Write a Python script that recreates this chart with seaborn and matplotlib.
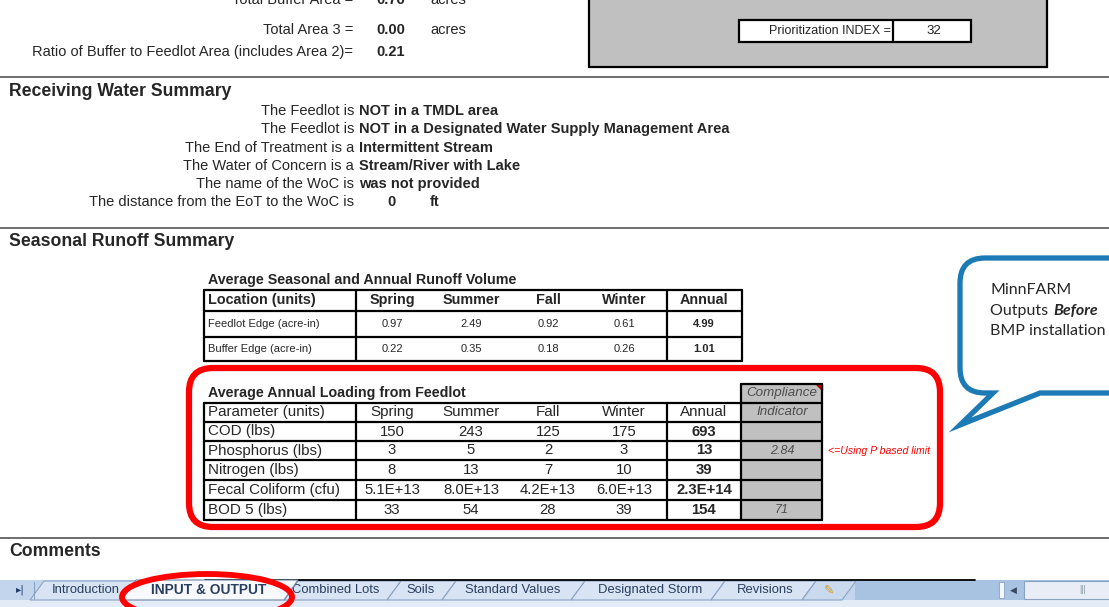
import numpy as np
import matplotlib
matplotlib.use("Agg")
import matplotlib.pyplot as plt
import seaborn as sns
from matplotlib.patches import Rectangle, FancyBboxPatch, Ellipse, PathPatch, Polygon
from matplotlib.path import Path

# ---- data ----
area_labels = ["Total Buffer Area =", "Total Area 3 =", "Ratio of Buffer to Feedlot Area (includes Area 2)="]
area_values = ["0.76", "0.00", "0.21"]
area_units = ["acres", "acres", ""]
prior_index = 32

water_labels = ["The Feedlot is", "The Feedlot is", "The End of Treatment is a",
                "The Water of Concern is a", "The name of the WoC is",
                "The distance from the EoT to the WoC is"]
water_values = ["NOT in a TMDL area", "NOT in a Designated Water Supply Management Area",
                "Intermittent Stream", "Stream/River with Lake", "was not provided", ""]
distance_ft = 0

seasons = ["Spring", "Summer", "Fall", "Winter"]
runoff_locations = ["Feedlot Edge (acre-in)", "Buffer Edge (acre-in)"]
runoff_seasonal = [[0.97, 2.49, 0.92, 0.61], [0.22, 0.35, 0.18, 0.26]]
runoff_annual = [4.99, 1.01]

load_params = ["COD (lbs)", "Phosphorus (lbs)", "Nitrogen (lbs)", "Fecal Coliform (cfu)", "BOD 5 (lbs)"]
load_seasonal = [[150, 243, 125, 175], [3, 5, 2, 3], [8, 13, 7, 10],
                 [5.1e13, 8.0e13, 4.2e13, 6.0e13], [33, 54, 28, 39]]
load_annual = [693, 13, 39, 2.3e14, 154]
compliance = [None, 2.84, None, None, 71]

sheet_tabs = ["Introduction", "INPUT & OUTPUT", "Combined Lots", "Soils",
              "Standard Values", "Designated Storm", "Revisions"]
active_tab = "INPUT & OUTPUT"


def fmt(v):
    if v >= 1e6:
        return f"{v:.1E}"
    return f"{v:g}"


sns.set_theme(style="white")
plt.rcParams['font.family'] = ['Liberation Sans', 'DejaVu Sans']

fig = plt.figure(figsize=(11.09, 6.07), dpi=100)
ax = fig.add_axes([0, 0, 1, 1])
ax.set_xlim(0, 1109)
ax.set_ylim(607, 0)
ax.axis("off")

K = "black"
thick = 1.6
fs = 10.5

# ---- top area block (first row is scrolled half out of view) ----
for i, (lab, val, unit) in enumerate(zip(area_labels, area_values, area_units)):
    y = [0, 30, 52][i]
    ax.text(353, y, lab, ha="right", va="center", fontsize=fs)
    ax.text(376, y, val, ha="left", va="center", fontsize=fs, weight="bold")
    ax.text(430, y, unit, ha="left", va="center", fontsize=fs)

ax.add_patch(Rectangle((589, -5), 458, 72, facecolor="#c0c0c0", edgecolor=K, lw=thick))
ax.add_patch(Rectangle((739, 20), 232, 22, facecolor="white", edgecolor=K, lw=thick))
ax.plot([893, 893], [20, 42], color=K, lw=thick)
ax.text(891, 31, "Prioritization INDEX =", ha="right", va="center", fontsize=9, color="#222222")
ax.text(934, 31, str(prior_index), ha="center", va="center", fontsize=9.5, color="#222222")

# section separators
for ys in [77, 228, 538]:
    ax.plot([0, 1109], [ys, ys], color="#555555", lw=1.2)

# ---- receiving water ----
ax.text(9, 91, "Receiving Water Summary", ha="left", va="center", fontsize=12.7, weight="bold")
for i, (lab, val) in enumerate(zip(water_labels, water_values)):
    y = 111 + i * 18.3
    ax.text(354, y, lab, ha="right", va="center", fontsize=fs)
    ax.text(359, y, val, ha="left", va="center", fontsize=fs, weight="bold")
ax.text(392, 202, str(distance_ft), ha="center", va="center", fontsize=fs, weight="bold")
ax.text(430, 202, "ft", ha="left", va="center", fontsize=fs, weight="bold")

# ---- seasonal runoff ----
ax.text(9, 242, "Seasonal Runoff Summary", ha="left", va="center", fontsize=12.7, weight="bold")

col_x = [392, 471, 548, 624]
ann_x = 704
vlines = [204, 356, 667, 742]

ax.text(208, 280, "Average Seasonal and Annual Runoff Volume", ha="left", va="center",
        fontsize=10.3, weight="bold")
t1_rows = [290, 311, 337, 361]
for yy in t1_rows:
    ax.plot([204, 742], [yy, yy], color=K, lw=thick)
for xx in vlines:
    ax.plot([xx, xx], [290, 361], color=K, lw=thick)
ax.text(208, 300, "Location (units)", ha="left", va="center", fontsize=10.4, weight="bold")
for s, cx in zip(seasons, col_x):
    ax.text(cx, 300, s, ha="center", va="center", fontsize=10.4, weight="bold")
ax.text(ann_x, 300, "Annual", ha="center", va="center", fontsize=10.4, weight="bold")
for r, (loc, vals, ann) in enumerate(zip(runoff_locations, runoff_seasonal, runoff_annual)):
    y = (t1_rows[r + 1] + t1_rows[r + 2]) / 2
    ax.text(208, y, loc, ha="left", va="center", fontsize=8)
    for v, cx in zip(vals, col_x):
        ax.text(cx, y, f"{v:.2f}", ha="center", va="center", fontsize=8)
    ax.text(ann_x, y, f"{ann:.2f}", ha="center", va="center", fontsize=8, weight="bold")

# ---- annual loading table ----
comp_x0, comp_x1 = 741, 822
ax.add_patch(Rectangle((comp_x0, 384), comp_x1 - comp_x0, 136, facecolor="#c0c0c0",
                       edgecolor="none"))
ax.text(208, 393, "Average Annual Loading from Feedlot", ha="left", va="center",
        fontsize=10.3, weight="bold")
t2_rows = [403, 422, 441, 460, 480, 500, 520]
for yy in t2_rows:
    ax.plot([204, comp_x1], [yy, yy], color=K, lw=thick)
for xx in [204, 356, 667, 741, 822]:
    ax.plot([xx, xx], [403, 520], color=K, lw=thick)
ax.plot([comp_x0, comp_x0], [384, 403], color=K, lw=thick)
ax.plot([comp_x1, comp_x1], [384, 403], color=K, lw=thick)
ax.plot([comp_x0, comp_x1], [384, 384], color=K, lw=thick)
ax.add_patch(Polygon([[comp_x1 - 6, 384], [comp_x1, 384], [comp_x1, 390]], color="#c00000"))
ax.text(782, 393, "Compliance", ha="center", va="center", fontsize=9.6, style="italic", color="#4d4d4d")
ax.text(782, 412, "Indicator", ha="center", va="center", fontsize=9.6, style="italic", color="#4d4d4d")

ax.text(208, 412, "Parameter (units)", ha="left", va="center", fontsize=10.9)
for s, cx in zip(seasons, col_x):
    ax.text(cx, 412, s, ha="center", va="center", fontsize=10.9)
ax.text(ann_x, 412, "Annual", ha="center", va="center", fontsize=10.9)
for r, (p, vals, ann, c) in enumerate(zip(load_params, load_seasonal, load_annual, compliance)):
    y = (t2_rows[r + 1] + t2_rows[r + 2]) / 2
    ax.text(208, y, p, ha="left", va="center", fontsize=10.9)
    for v, cx in zip(vals, col_x):
        ax.text(cx, y, fmt(v), ha="center", va="center", fontsize=10.7)
    ax.text(ann_x, y, fmt(ann), ha="center", va="center", fontsize=10.7, weight="bold")
    if c is not None:
        ax.text(782, y, f"{c:g}", ha="center", va="center", fontsize=9, style="italic",
                color="#4d4d4d")

note = ax.text(828, 451.5, "<=Using P based limit", ha="left", va="center", fontsize=7.6,
               style="italic", color="red")
clip = Rectangle((822, 440), 124, 25, transform=ax.transData, facecolor="none", edgecolor="none")
ax.add_patch(clip)
note.set_clip_path(clip)

ax.add_patch(FancyBboxPatch((189, 368), 751, 159, boxstyle="round,pad=0,rounding_size=24",
                            facecolor="none", edgecolor="#ff0000", lw=4.5))

# ---- callout bubble ----
blue = "#1c7ab4"
verts = [(1040, 393), (1140, 393), (1140, 258), (985, 258), (960, 258), (960, 283),
         (960, 368), (960, 393), (985, 393), (993, 393), (960, 425), (1040, 393)]
codes = [Path.MOVETO, Path.LINETO, Path.LINETO, Path.LINETO, Path.CURVE3, Path.CURVE3,
         Path.LINETO, Path.CURVE3, Path.CURVE3, Path.LINETO, Path.LINETO, Path.CLOSEPOLY]
ax.add_patch(PathPatch(Path(verts, codes), facecolor="white", edgecolor=blue, lw=3.8,
                       joinstyle="miter"))
cf = ['Lato', 'DejaVu Sans']
ax.text(990, 290, "MinnFARM", ha="left", va="center", fontsize=11.5, family=cf)
ax.text(990, 311, "Outputs ", ha="left", va="center", fontsize=11.5, family=cf)
ax.text(1053, 311, "Before", ha="left", va="center", fontsize=11.5, family=cf,
        weight="bold", style="italic")
ax.text(990, 331, "BMP installation", ha="left", va="center", fontsize=11.5, family=cf)

# ---- comments + sheet tabs ----
ax.text(9, 551, "Comments", ha="left", va="center", fontsize=12.7, weight="bold")

ax.add_patch(Rectangle((0, 580), 1109, 20, facecolor="#c3d5ec", edgecolor="none"))
ax.add_patch(Rectangle((0, 600), 1109, 10, facecolor="#e2ebf6", edgecolor="none"))
ax.add_patch(Rectangle((855, 580), 260, 20, facecolor="#a8c2e2", edgecolor="none"))
ax.plot([205, 975], [579.5, 579.5], color=K, lw=1.3)
ax.text(20, 590, "▸|", ha="center", va="center", fontsize=7.5, color="#1f3a6f",
        family=['DejaVu Sans'])
ax.plot([34, 34], [582, 599], color="#8ba3c3", lw=0.8)

tab_edges = [36, 128, 290, 393, 448, 577, 717, 808]
tab_cx = [86, 209, 336, 421, 513, 650, 765]
for i, name in enumerate(sheet_tabs):
    if name == active_tab:
        continue
    L, R = tab_edges[i], tab_edges[i + 1]
    ax.add_patch(Polygon([[L - 6, 600], [L + 8, 581], [R + 8, 581], [R - 6, 600]],
                         facecolor="#d8e4f3", edgecolor="#8ba3c3", lw=0.8))
    ax.text(tab_cx[i], 590, name, ha="center", va="center", fontsize=9.4, color="#2a3f5f")
# new sheet tab
ax.add_patch(Polygon([[802, 600], [816, 581], [856, 581], [842, 600]],
                     facecolor="#c9daee", edgecolor="#8ba3c3", lw=0.8))
ax.text(829, 590, "✎", ha="center", va="center", fontsize=9, color="#d09a20", family=['DejaVu Sans'])

i_act = sheet_tabs.index(active_tab)
L, R = tab_edges[i_act], tab_edges[i_act + 1]
ax.add_patch(Polygon([[L - 6, 600], [L + 8, 580], [R + 8, 580], [R - 6, 600]],
                     facecolor="#f7f9fc", edgecolor="#6f86a6", lw=0.8, zorder=4))
ax.text(tab_cx[i_act], 590, active_tab, ha="center", va="center", fontsize=9.9, weight="bold",
        color="#2a3f5f", zorder=5)

ax.add_patch(Rectangle((999, 582), 5, 16, facecolor="#f4f7fb", edgecolor="#8ba3c3", lw=0.6))
ax.text(1013, 590, "◀", ha="center", va="center", fontsize=6.5, color="#3a4a66", family=['DejaVu Sans'])
ax.add_patch(Rectangle((1024, 581), 100, 18, facecolor="#e9eef6", edgecolor="#8ba3c3", lw=0.8))
ax.text(1083, 590, "|||", ha="center", va="center", fontsize=6.5, color="#8899aa")

ax.add_patch(Ellipse((207, 597), 170, 46, facecolor="none", edgecolor="#ff0000", lw=4.2, zorder=6))

fig.savefig("out.png", dpi=100)
